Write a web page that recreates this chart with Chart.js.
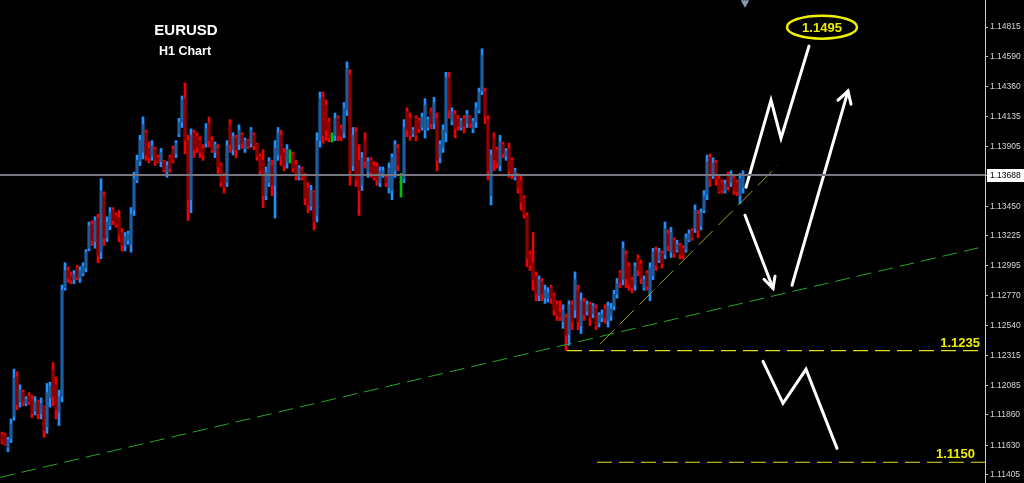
<!DOCTYPE html>
<html>
<head>
<meta charset="utf-8">
<title>EURUSD H1</title>
<script src="https://cdn.jsdelivr.net/npm/chart.js@4.4.0/dist/chart.umd.min.js"></script>
<style>
  html, body { margin: 0; padding: 0; background: #000; }
  #wrap { width: 1024px; height: 483px; position: relative; }
</style>
</head>
<body>
<div id="wrap"><canvas id="chart"></canvas></div>
<script>
// hourly candles, [open, high, low, close]
const ohlc = [
  [1.1171,1.1173,1.1164,1.1166],[1.1171,1.1172,1.1163,1.1164],[1.1161,1.1169,1.1158,1.1167],[1.1168,1.1183,1.1165,1.1179],
  [1.1185,1.1221,1.1182,1.1214],[1.1215,1.1219,1.1190,1.1194],[1.1196,1.1209,1.1192,1.1205],[1.1203,1.1205,1.1193,1.1196],
  [1.1195,1.1200,1.1193,1.1198],[1.1200,1.1203,1.1194,1.1196],[1.1198,1.1201,1.1184,1.1187],[1.1189,1.1200,1.1186,1.1196],
  [1.1196,1.1197,1.1183,1.1187],[1.1187,1.1199,1.1183,1.1195],[1.1192,1.1193,1.1169,1.1174],[1.1177,1.1210,1.1172,1.1203],
  [1.1199,1.1211,1.1192,1.1208],[1.1220,1.1226,1.1193,1.1200],[1.1209,1.1215,1.1183,1.1190],[1.1188,1.1205,1.1178,1.1200],
  [1.1200,1.1285,1.1196,1.1281],[1.1283,1.1302,1.1281,1.1296],[1.1296,1.1299,1.1287,1.1290],[1.1292,1.1295,1.1286,1.1288],
  [1.1289,1.1296,1.1286,1.1293],[1.1298,1.1300,1.1289,1.1291],[1.1290,1.1299,1.1287,1.1296],[1.1294,1.1302,1.1292,1.1299],
  [1.1298,1.1312,1.1295,1.1310],[1.1313,1.1333,1.1311,1.1330],[1.1331,1.1334,1.1315,1.1319],[1.1318,1.1337,1.1313,1.1334],
  [1.1336,1.1339,1.1302,1.1308],[1.1310,1.1366,1.1305,1.1357],[1.1353,1.1356,1.1315,1.1321],[1.1321,1.1337,1.1318,1.1333],
  [1.1330,1.1344,1.1327,1.1340],[1.1342,1.1344,1.1331,1.1334],[1.1338,1.1340,1.1329,1.1331],[1.1336,1.1342,1.1318,1.1323],
  [1.1325,1.1328,1.1311,1.1315],[1.1315,1.1325,1.1311,1.1322],[1.1319,1.1326,1.1316,1.1324],[1.1316,1.1344,1.1310,1.1339],
  [1.1342,1.1371,1.1338,1.1366],[1.1365,1.1384,1.1363,1.1380],[1.1379,1.1399,1.1376,1.1395],[1.1386,1.1413,1.1381,1.1407],
  [1.1401,1.1403,1.1380,1.1384],[1.1389,1.1394,1.1378,1.1382],[1.1383,1.1395,1.1380,1.1391],[1.1388,1.1390,1.1376,1.1380],
  [1.1382,1.1384,1.1378,1.1379],[1.1379,1.1389,1.1375,1.1386],[1.1379,1.1380,1.1371,1.1373],[1.1371,1.1379,1.1367,1.1376],
  [1.1382,1.1384,1.1371,1.1374],[1.1388,1.1391,1.1378,1.1380],[1.1385,1.1395,1.1382,1.1393],[1.1400,1.1412,1.1398,1.1409],
  [1.1409,1.1429,1.1405,1.1426],[1.1427,1.1439,1.1385,1.1395],[1.1395,1.1399,1.1334,1.1350],[1.1350,1.1404,1.1340,1.1399],
  [1.1401,1.1403,1.1382,1.1388],[1.1398,1.1401,1.1386,1.1390],[1.1395,1.1398,1.1382,1.1386],[1.1389,1.1392,1.1380,1.1384],
  [1.1393,1.1408,1.1390,1.1404],[1.1408,1.1413,1.1390,1.1395],[1.1395,1.1398,1.1386,1.1388],[1.1386,1.1394,1.1382,1.1392],
  [1.1389,1.1392,1.1370,1.1375],[1.1376,1.1378,1.1360,1.1363],[1.1368,1.1370,1.1355,1.1359],[1.1363,1.1395,1.1360,1.1391],
  [1.1407,1.1411,1.1386,1.1392],[1.1388,1.1401,1.1384,1.1398],[1.1397,1.1399,1.1382,1.1388],[1.1392,1.1407,1.1388,1.1403],
  [1.1399,1.1401,1.1389,1.1393],[1.1389,1.1397,1.1386,1.1395],[1.1395,1.1396,1.1389,1.1391],[1.1393,1.1405,1.1390,1.1403],
  [1.1399,1.1401,1.1388,1.1391],[1.1392,1.1393,1.1380,1.1383],[1.1383,1.1385,1.1369,1.1372],[1.1380,1.1388,1.1344,1.1353],
  [1.1353,1.1375,1.1350,1.1371],[1.1363,1.1382,1.1360,1.1379],[1.1376,1.1380,1.1353,1.1361],[1.1361,1.1395,1.1336,1.1389],
  [1.1384,1.1405,1.1380,1.1401],[1.1399,1.1403,1.1376,1.1384],[1.1386,1.1389,1.1372,1.1376],[1.1378,1.1392,1.1374,1.1388],
  [1.1383,1.1388,1.1378,1.1383],[1.1384,1.1386,1.1371,1.1374],[1.1377,1.1380,1.1365,1.1368],[1.1367,1.1376,1.1365,1.1374],
  [1.1373,1.1375,1.1365,1.1367],[1.1368,1.1370,1.1346,1.1351],[1.1359,1.1363,1.1340,1.1346],[1.1345,1.1361,1.1342,1.1357],
  [1.1356,1.1357,1.1327,1.1333],[1.1338,1.1401,1.1333,1.1395],[1.1395,1.1432,1.1390,1.1427],[1.1428,1.1432,1.1393,1.1399],
  [1.1422,1.1426,1.1395,1.1403],[1.1409,1.1412,1.1394,1.1397],[1.1398,1.1401,1.1394,1.1398],[1.1399,1.1416,1.1395,1.1412],
  [1.1412,1.1414,1.1395,1.1399],[1.1404,1.1407,1.1395,1.1398],[1.1401,1.1424,1.1397,1.1420],[1.1418,1.1455,1.1414,1.1450],
  [1.1445,1.1449,1.1361,1.1372],[1.1376,1.1405,1.1372,1.1399],[1.1401,1.1405,1.1360,1.1365],[1.1380,1.1392,1.1338,1.1357],
  [1.1361,1.1386,1.1357,1.1382],[1.1395,1.1401,1.1374,1.1379],[1.1371,1.1382,1.1367,1.1379],[1.1380,1.1382,1.1367,1.1371],
  [1.1376,1.1379,1.1365,1.1367],[1.1375,1.1378,1.1361,1.1365],[1.1363,1.1375,1.1360,1.1372],[1.1369,1.1375,1.1367,1.1372],
  [1.1367,1.1369,1.1360,1.1363],[1.1359,1.1378,1.1355,1.1374],[1.1357,1.1385,1.1350,1.1382],[1.1372,1.1395,1.1367,1.1392],
  [1.1389,1.1392,1.1372,1.1376],[1.1363,1.1370,1.1352,1.1363],[1.1366,1.1411,1.1363,1.1405],[1.1417,1.1420,1.1398,1.1403],
  [1.1412,1.1416,1.1395,1.1399],[1.1400,1.1405,1.1398,1.1403],[1.1412,1.1414,1.1395,1.1399],[1.1410,1.1412,1.1401,1.1404],
  [1.1405,1.1416,1.1403,1.1413],[1.1403,1.1427,1.1397,1.1422],[1.1405,1.1413,1.1403,1.1411],[1.1417,1.1420,1.1404,1.1408],
  [1.1408,1.1428,1.1404,1.1424],[1.1412,1.1416,1.1372,1.1380],[1.1382,1.1395,1.1378,1.1392],[1.1390,1.1407,1.1386,1.1403],
  [1.1401,1.1447,1.1394,1.1443],[1.1443,1.1447,1.1412,1.1418],[1.1410,1.1420,1.1407,1.1417],[1.1415,1.1418,1.1397,1.1404],
  [1.1412,1.1414,1.1403,1.1406],[1.1405,1.1412,1.1403,1.1410],[1.1412,1.1414,1.1401,1.1406],[1.1408,1.1418,1.1405,1.1415],
  [1.1413,1.1414,1.1405,1.1408],[1.1404,1.1412,1.1401,1.1410],[1.1409,1.1424,1.1405,1.1420],[1.1418,1.1435,1.1416,1.1432],
  [1.1433,1.1465,1.1430,1.1460],[1.1432,1.1435,1.1408,1.1414],[1.1411,1.1414,1.1365,1.1372],[1.1353,1.1388,1.1346,1.1384],
  [1.1397,1.1401,1.1372,1.1380],[1.1388,1.1390,1.1374,1.1378],[1.1376,1.1399,1.1372,1.1394],[1.1392,1.1394,1.1382,1.1385],
  [1.1383,1.1389,1.1380,1.1387],[1.1389,1.1393,1.1367,1.1372],[1.1380,1.1382,1.1366,1.1369],[1.1367,1.1374,1.1365,1.1372],
  [1.1368,1.1370,1.1355,1.1359],[1.1365,1.1369,1.1342,1.1348],[1.1351,1.1353,1.1336,1.1339],[1.1338,1.1340,1.1299,1.1305],
  [1.1308,1.1311,1.1296,1.1300],[1.1302,1.1325,1.1281,1.1289],[1.1292,1.1295,1.1273,1.1278],[1.1277,1.1292,1.1273,1.1289],
  [1.1287,1.1290,1.1273,1.1278],[1.1275,1.1285,1.1271,1.1281],[1.1275,1.1283,1.1272,1.1279],[1.1283,1.1285,1.1271,1.1275],
  [1.1277,1.1279,1.1262,1.1266],[1.1270,1.1273,1.1258,1.1262],[1.1264,1.1273,1.1258,1.1261],[1.1257,1.1270,1.1252,1.1266],
  [1.1260,1.1263,1.1235,1.1247],[1.1247,1.1273,1.1239,1.1270],[1.1270,1.1273,1.1251,1.1257],[1.1266,1.1295,1.1260,1.1289],
  [1.1281,1.1285,1.1251,1.1257],[1.1254,1.1279,1.1248,1.1273],[1.1272,1.1275,1.1258,1.1262],[1.1265,1.1273,1.1262,1.1270],
  [1.1270,1.1272,1.1254,1.1260],[1.1263,1.1271,1.1260,1.1269],[1.1267,1.1270,1.1251,1.1254],[1.1256,1.1264,1.1253,1.1262],
  [1.1260,1.1266,1.1257,1.1263],[1.1267,1.1270,1.1256,1.1260],[1.1258,1.1272,1.1253,1.1269],[1.1262,1.1271,1.1258,1.1267],
  [1.1269,1.1281,1.1266,1.1278],[1.1278,1.1290,1.1275,1.1286],[1.1294,1.1296,1.1283,1.1287],[1.1289,1.1318,1.1285,1.1313],
  [1.1308,1.1311,1.1283,1.1290],[1.1299,1.1302,1.1281,1.1285],[1.1289,1.1291,1.1279,1.1283],[1.1285,1.1302,1.1281,1.1299],
  [1.1305,1.1308,1.1292,1.1296],[1.1301,1.1304,1.1286,1.1290],[1.1283,1.1292,1.1281,1.1289],[1.1294,1.1296,1.1281,1.1284],
  [1.1279,1.1302,1.1273,1.1298],[1.1292,1.1313,1.1289,1.1310],[1.1311,1.1314,1.1296,1.1300],[1.1304,1.1313,1.1302,1.1310],
  [1.1309,1.1311,1.1298,1.1301],[1.1308,1.1333,1.1305,1.1328],[1.1324,1.1327,1.1311,1.1315],[1.1310,1.1329,1.1306,1.1325],
  [1.1319,1.1321,1.1306,1.1309],[1.1312,1.1319,1.1310,1.1316],[1.1315,1.1317,1.1305,1.1308],[1.1313,1.1315,1.1305,1.1308],
  [1.1312,1.1324,1.1310,1.1321],[1.1319,1.1327,1.1318,1.1324],[1.1326,1.1328,1.1319,1.1321],[1.1328,1.1346,1.1325,1.1342],
  [1.1339,1.1342,1.1321,1.1327],[1.1330,1.1343,1.1327,1.1340],[1.1342,1.1357,1.1340,1.1353],[1.1354,1.1384,1.1350,1.1379],
  [1.1382,1.1385,1.1360,1.1366],[1.1369,1.1382,1.1366,1.1378],[1.1378,1.1380,1.1361,1.1366],[1.1366,1.1369,1.1355,1.1356],
  [1.1363,1.1365,1.1355,1.1357],[1.1357,1.1365,1.1355,1.1362],[1.1369,1.1371,1.1357,1.1360],[1.1363,1.1372,1.1360,1.1369],
  [1.1366,1.1369,1.1354,1.1357],[1.1363,1.1365,1.1353,1.1356],[1.1353,1.1370,1.1347,1.1366],[1.1359,1.1372,1.1355,1.1369]
];

const tickPrices = [1.14815, 1.14590, 1.14360, 1.14135, 1.13905, 1.13450, 1.13225, 1.12995,
                    1.12770, 1.12540, 1.12315, 1.12085, 1.11860, 1.11630, 1.11405];
const lastPrice = 1.13688;

// drawn objects, [bar index, price]
const supportLine = [[-0.667, 1.11385], [327.667, 1.13145]];
const channelLine = [[199.33, 1.12399], [258.67, 1.13763]];
const level1235 = [[188.33, 1.1235], [327.667, 1.1235]];
const level1150 = [[198.33, 1.1150], [327.667, 1.1150]];
const priceLine = [[-0.667, lastPrice], [327.667, lastPrice]];
const pathUp = [[248.0, 1.13595], [256.33, 1.14258], [259.67, 1.13968], [269.0, 1.14670]];
const pathDip = [[247.67, 1.13382], [257.0, 1.12825]];
const pathDipHead = [[254.0, 1.12894], [257.0, 1.12825], [257.67, 1.12917]];
const pathRally = [[263.33, 1.12848], [282.0, 1.14327]];
const pathRallyHead = [[278.67, 1.14258], [282.0, 1.14327], [283.0, 1.14228]];
const pathDown = [[253.67, 1.12269], [260.33, 1.11949], [268.0, 1.12208], [278.33, 1.11606]];
const shiftMark = [[247.67, 1.1500]];

const notes = [
  { text: 'EURUSD', x: 61.33, y: 1.14753, font: 'bold 15px "Liberation Sans"', color: '#ffffff', align: 'center' },
  { text: 'H1 Chart', x: 61.0, y: 1.14601, font: 'bold 12.5px "Liberation Sans"', color: '#ffffff', align: 'center' },
  { text: '1.1235', x: 326.0, y: 1.12376, font: 'bold 13px "Liberation Sans"', color: '#eeee00', align: 'right' },
  { text: '1.1150', x: 324.33, y: 1.11530, font: 'bold 13px "Liberation Sans"', color: '#eeee00', align: 'right' }
];
const target = { text: '1.1495', x: 273.33, y: 1.14814 };

function candleColor(i, bright) {
  const c = ohlc[i];
  if (c[3] > c[0]) return bright ? '#1e90ff' : '#1c5c9c';
  if (c[3] < c[0]) return bright ? '#f00000' : '#8e0000';
  return '#00c000';
}

function toPoints(arr) {
  return arr.map(p => ({ x: p[0], y: p[1] }));
}

function lineSet(arr, color, width, dash) {
  return {
    type: 'line',
    data: toPoints(arr),
    borderColor: color,
    borderWidth: width,
    borderDash: dash || [],
    borderCapStyle: dash ? 'butt' : 'round',
    borderJoinStyle: 'miter',
    pointRadius: 0,
    fill: false,
    tension: 0,
    order: 0
  };
}

// text, the target ellipse and the last price box
const annotate = {
  id: 'annotate',
  afterDatasetsDraw(chart) {
    const { ctx, scales: { x, y } } = chart;
    ctx.save();
    ctx.textBaseline = 'alphabetic';
    notes.forEach(n => {
      ctx.font = n.font;
      ctx.fillStyle = n.color;
      ctx.textAlign = n.align;
      ctx.fillText(n.text, x.getPixelForValue(n.x), y.getPixelForValue(n.y));
    });
    const cx = x.getPixelForValue(target.x);
    const cy = y.getPixelForValue(target.y);
    ctx.beginPath();
    ctx.ellipse(cx, cy, 35, 11.5, 0, 0, Math.PI * 2);
    ctx.strokeStyle = '#eeee00';
    ctx.lineWidth = 2.5;
    ctx.stroke();
    ctx.font = 'bold 13px "Liberation Sans"';
    ctx.fillStyle = '#eeee00';
    ctx.textAlign = 'center';
    ctx.textBaseline = 'middle';
    ctx.fillText(target.text, cx, cy + 1);

    const py = Math.round(y.getPixelForValue(lastPrice));
    ctx.fillStyle = '#ffffff';
    ctx.fillRect(y.left + 2, py - 6, chart.width - y.left - 2, 13);
    ctx.font = '8.5px "Liberation Sans"';
    ctx.fillStyle = '#000000';
    ctx.textAlign = 'left';
    ctx.fillText(lastPrice.toFixed(5), y.left + 5, py + 0.5);
    ctx.restore();
  }
};

const ctx = document.getElementById('chart').getContext('2d');
const chart = new Chart(ctx, {
  type: 'bar',
  data: {
    datasets: [
      lineSet(priceLine, 'rgb(118,118,128)', 2),
      lineSet(supportLine, 'rgb(38,165,38)', 1, [15, 7]),
      lineSet(channelLine, '#a4a41e', 1, [20, 8]),
      lineSet(level1235, '#dede20', 1.2, [15, 7]),
      lineSet(level1150, '#dede20', 1.2, [15, 7]),
      lineSet(pathUp, '#ffffff', 3),
      lineSet(pathDip, '#ffffff', 3),
      lineSet(pathDipHead, '#ffffff', 3),
      lineSet(pathRally, '#ffffff', 3),
      lineSet(pathRallyHead, '#ffffff', 3),
      lineSet(pathDown, '#ffffff', 3),
      {
        type: 'line',
        data: toPoints(shiftMark),
        showLine: false,
        pointStyle: 'triangle',
        rotation: 180,
        pointRadius: 5,
        pointBackgroundColor: '#8a9ab0',
        pointBorderWidth: 0,
        order: 0
      },
      {
        type: 'bar',
        data: ohlc.map((c, i) => ({ x: i, y: [c[0], c[3]] })),
        backgroundColor: c => candleColor(c.dataIndex, false),
        barThickness: 2,
        minBarLength: 1,
        grouped: false,
        borderWidth: 0,
        order: 1
      },
      {
        type: 'bar',
        data: ohlc.map((c, i) => ({ x: i, y: [c[2], c[1]] })),
        backgroundColor: c => candleColor(c.dataIndex, true),
        barThickness: 2,
        grouped: false,
        borderWidth: 0,
        order: 2
      }
    ]
  },
  options: {
    responsive: true,
    maintainAspectRatio: false,
    animation: false,
    layout: { padding: 0, autoPadding: false },
    plugins: { legend: { display: false }, tooltip: { enabled: false } },
    scales: {
      x: {
        type: 'linear',
        min: -2 / 3,
        max: 983 / 3,
        offset: false,
        display: false
      },
      y: {
        position: 'right',
        min: 1.11342,
        max: 1.15021,
        afterBuildTicks: scale => {
          scale.ticks = tickPrices.concat([lastPrice]).sort((a, b) => a - b).map(v => ({ value: v }));
        },
        afterFit: scale => {
          scale.width = 39;
          scale.paddingTop = 0;
          scale.paddingBottom = 0;
        },
        border: { display: true, color: '#c8c8c8', width: 1 },
        grid: { drawOnChartArea: false, drawTicks: true, tickLength: 3, color: '#c8c8c8' },
        ticks: {
          autoSkip: false,
          padding: 2,
          font: { family: '"Liberation Sans"', size: 8.5, lineHeight: 0.01 },
          color: c => c.tick && c.tick.value === lastPrice ? 'rgba(0,0,0,0)' : '#d2d6dc',
          callback: v => Number(v).toFixed(5)
        }
      }
    }
  },
  plugins: [annotate]
});
</script>
</body>
</html>
